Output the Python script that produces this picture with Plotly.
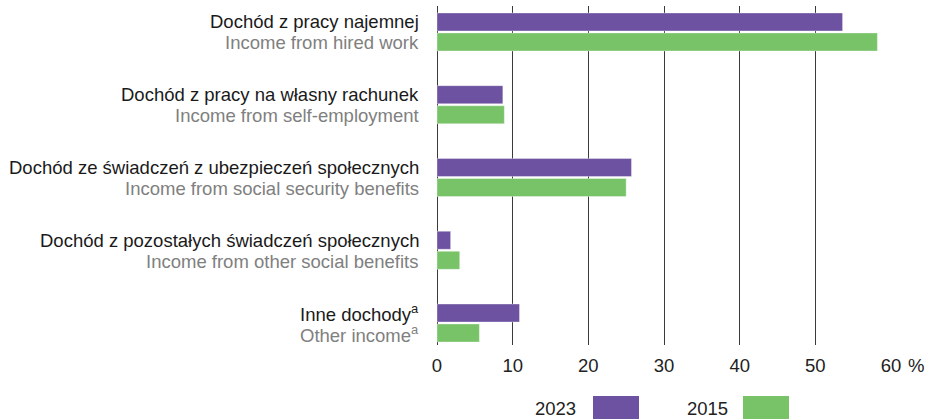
import plotly.graph_objects as go

# ---- data ----
labels_pl = [
    "Dochód z pracy najemnej",
    "Dochód z pracy na własny rachunek",
    "Dochód ze świadczeń z ubezpieczeń społecznych",
    "Dochód z pozostałych świadczeń społecznych",
    "Inne dochody<sup>a</sup>",
]
labels_en = [
    "Income from hired work",
    "Income from self-employment",
    "Income from social security benefits",
    "Income from other social benefits",
    "Other income<sup>a</sup>",
]
values_2023 = [53.6, 8.7, 25.7, 1.8, 10.9]
values_2015 = [58.2, 8.9, 25.0, 3.0, 5.6]
series_names = ["2023", "2015"]
x_ticks = [0, 10, 20, 30, 40, 50, 60]
x_ticktext = ["0", "10", "20", "30", "40", "50", "60"]

# ---- style ----
PURPLE = "#6C52A0"
GREEN = "#78C368"
FONT = "Liberation Sans, Arial, sans-serif"
FS = 18.5
W, H = 928, 419
L, R, T, B = 437, 37, 6, 74
PW = W - L - R
PH = H - T - B

def px_x(px):
    return (px - L) / PW

def px_y(py):
    return (H - B - py) / PH

cats = list(range(len(labels_pl)))

fig = go.Figure()
fig.add_trace(go.Bar(
    y=cats, x=values_2023, orientation="h", name=series_names[0],
    marker=dict(color=PURPLE, line=dict(color="rgba(255,255,255,0.35)", width=1)),
    showlegend=False,
))
fig.add_trace(go.Bar(
    y=cats, x=values_2015, orientation="h", name=series_names[1],
    marker=dict(color=GREEN, line=dict(color="rgba(255,255,255,0.35)", width=1)),
    showlegend=False,
))

annotations = []
for i, (pl, en) in enumerate(zip(labels_pl, labels_en)):
    annotations.append(dict(
        x=0, xref="paper", y=i, yref="y", text=pl, showarrow=False,
        xanchor="right", yanchor="middle", xshift=-16, yshift=10,
        font=dict(family=FONT, size=FS, color="#1a1a1a"),
    ))
    annotations.append(dict(
        x=0, xref="paper", y=i, yref="y", text=en, showarrow=False,
        xanchor="right", yanchor="middle", xshift=-16, yshift=-11,
        font=dict(family=FONT, size=FS, color="#808080"),
    ))

# percent sign after the last tick label
annotations.append(dict(
    x=60, xref="x", y=0, yref="paper", text="%", showarrow=False,
    xanchor="left", yanchor="middle", xshift=15, yshift=-20,
    font=dict(family=FONT, size=FS, color="#222222"),
))

# custom legend (label before swatch)
legend_items = [
    (series_names[0], PURPLE, 578, 593, 639),
    (series_names[1], GREEN, 730, 743, 789),
]
shapes = []
for name, col, txt_right, bx0, bx1 in legend_items:
    annotations.append(dict(
        x=px_x(txt_right), xref="paper", y=px_y(408), yref="paper", text=name,
        showarrow=False, xanchor="right", yanchor="middle",
        font=dict(family=FONT, size=FS, color="#222222"),
    ))
    shapes.append(dict(
        type="rect", xref="paper", yref="paper",
        x0=px_x(bx0), x1=px_x(bx1), y0=px_y(396), y1=px_y(430),
        fillcolor=col, line=dict(width=0), layer="above",
    ))

fig.update_layout(
    width=W, height=H, autosize=False,
    margin=dict(l=L, r=R, t=T, b=B, pad=0),
    paper_bgcolor="white", plot_bgcolor="white",
    barmode="group", bargap=0.45, bargroupgap=0.1,
    font=dict(family=FONT, size=FS, color="#222222"),
    annotations=annotations, shapes=shapes,
    showlegend=False,
)
fig.update_xaxes(
    range=[0, 60], tickvals=x_ticks, ticktext=x_ticktext,
    showgrid=True, gridcolor="#3a3a3a", gridwidth=1,
    zeroline=True, zerolinecolor="#3a3a3a", zerolinewidth=1,
    showline=False, ticks="outside", ticklen=4, tickcolor="rgba(0,0,0,0)",
    tickfont=dict(family=FONT, size=FS, color="#222222"),
    fixedrange=True,
)
fig.update_yaxes(
    range=[4.302, -0.357], showticklabels=False, showgrid=False,
    zeroline=False, showline=False, fixedrange=True,
)

fig.write_html(
    "out.html",
    config={"displayModeBar": False},
    post_script="document.body.style.margin='0';document.body.style.overflow='hidden';",
)
